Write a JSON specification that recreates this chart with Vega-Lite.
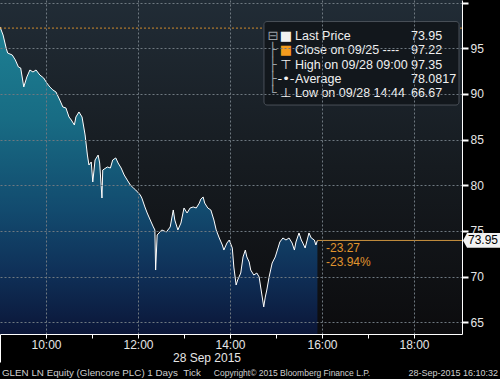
{
  "$schema": "https://vega.github.io/schema/vega-lite/v6.json",
  "width": 462,
  "height": 334,
  "autosize": "none",
  "padding": {"left": 0, "top": 0, "right": 38, "bottom": 45},
  "background": "#000000",
  "config": {"view": {"stroke": null}, "font": "Liberation Sans"},
  "datasets": {
    "price": [
      {"t": "2015-09-28T09:00", "price": 97.35},
      {"t": "2015-09-28T09:04", "price": 96.46},
      {"t": "2015-09-28T09:08", "price": 95.04},
      {"t": "2015-09-28T09:10", "price": 94.49},
      {"t": "2015-09-28T09:16", "price": 94.27},
      {"t": "2015-09-28T09:20", "price": 93.73},
      {"t": "2015-09-28T09:24", "price": 92.96},
      {"t": "2015-09-28T09:27", "price": 92.85},
      {"t": "2015-09-28T09:31", "price": 90.77},
      {"t": "2015-09-28T09:35", "price": 91.86},
      {"t": "2015-09-28T09:39", "price": 92.63},
      {"t": "2015-09-28T09:43", "price": 92.41},
      {"t": "2015-09-28T09:47", "price": 92.63},
      {"t": "2015-09-28T09:52", "price": 92.08},
      {"t": "2015-09-28T09:57", "price": 91.75},
      {"t": "2015-09-28T10:01", "price": 91.21},
      {"t": "2015-09-28T10:05", "price": 90.77},
      {"t": "2015-09-28T10:09", "price": 90.44},
      {"t": "2015-09-28T10:13", "price": 90.22},
      {"t": "2015-09-28T10:18", "price": 89.34},
      {"t": "2015-09-28T10:22", "price": 88.57},
      {"t": "2015-09-28T10:26", "price": 88.47},
      {"t": "2015-09-28T10:30", "price": 87.48},
      {"t": "2015-09-28T10:33", "price": 87.15},
      {"t": "2015-09-28T10:37", "price": 86.6},
      {"t": "2015-09-28T10:39", "price": 87.48},
      {"t": "2015-09-28T10:43", "price": 88.03},
      {"t": "2015-09-28T10:47", "price": 87.48},
      {"t": "2015-09-28T10:51", "price": 85.51},
      {"t": "2015-09-28T10:54", "price": 83.31},
      {"t": "2015-09-28T10:56", "price": 82.22},
      {"t": "2015-09-28T10:59", "price": 82.55},
      {"t": "2015-09-28T11:01", "price": 80.36},
      {"t": "2015-09-28T11:04", "price": 82.77},
      {"t": "2015-09-28T11:08", "price": 83.31},
      {"t": "2015-09-28T11:10", "price": 82.44},
      {"t": "2015-09-28T11:13", "price": 78.6},
      {"t": "2015-09-28T11:14", "price": 81.67},
      {"t": "2015-09-28T11:20", "price": 82.0},
      {"t": "2015-09-28T11:24", "price": 81.89},
      {"t": "2015-09-28T11:27", "price": 82.77},
      {"t": "2015-09-28T11:31", "price": 82.99},
      {"t": "2015-09-28T11:34", "price": 82.44},
      {"t": "2015-09-28T11:38", "price": 81.89},
      {"t": "2015-09-28T11:42", "price": 81.12},
      {"t": "2015-09-28T11:46", "price": 80.57},
      {"t": "2015-09-28T11:50", "price": 80.03},
      {"t": "2015-09-28T11:54", "price": 79.7},
      {"t": "2015-09-28T11:57", "price": 79.48},
      {"t": "2015-09-28T12:03", "price": 78.93},
      {"t": "2015-09-28T12:05", "price": 78.6},
      {"t": "2015-09-28T12:09", "price": 77.62},
      {"t": "2015-09-28T12:12", "price": 76.96},
      {"t": "2015-09-28T12:16", "price": 76.19},
      {"t": "2015-09-28T12:20", "price": 75.43},
      {"t": "2015-09-28T12:22", "price": 75.1},
      {"t": "2015-09-28T12:23", "price": 70.71},
      {"t": "2015-09-28T12:25", "price": 74.55},
      {"t": "2015-09-28T12:31", "price": 75.1},
      {"t": "2015-09-28T12:37", "price": 74.88},
      {"t": "2015-09-28T12:42", "price": 75.43},
      {"t": "2015-09-28T12:46", "price": 77.29},
      {"t": "2015-09-28T12:48", "price": 76.19},
      {"t": "2015-09-28T12:52", "price": 75.1},
      {"t": "2015-09-28T12:56", "price": 75.86},
      {"t": "2015-09-28T13:00", "price": 77.51},
      {"t": "2015-09-28T13:04", "price": 76.96},
      {"t": "2015-09-28T13:08", "price": 77.51},
      {"t": "2015-09-28T13:12", "price": 77.62},
      {"t": "2015-09-28T13:16", "price": 77.51},
      {"t": "2015-09-28T13:20", "price": 78.05},
      {"t": "2015-09-28T13:22", "price": 78.49},
      {"t": "2015-09-28T13:25", "price": 78.71},
      {"t": "2015-09-28T13:27", "price": 78.05},
      {"t": "2015-09-28T13:31", "price": 77.51},
      {"t": "2015-09-28T13:35", "price": 77.29},
      {"t": "2015-09-28T13:39", "price": 76.19},
      {"t": "2015-09-28T13:42", "price": 75.1},
      {"t": "2015-09-28T13:46", "price": 74.22},
      {"t": "2015-09-28T13:50", "price": 73.45},
      {"t": "2015-09-28T13:52", "price": 72.9},
      {"t": "2015-09-28T13:56", "price": 73.67},
      {"t": "2015-09-28T13:59", "price": 74.0},
      {"t": "2015-09-28T14:03", "price": 73.12},
      {"t": "2015-09-28T14:05", "price": 71.04},
      {"t": "2015-09-28T14:08", "price": 69.07},
      {"t": "2015-09-28T14:10", "price": 69.62},
      {"t": "2015-09-28T14:14", "price": 70.38},
      {"t": "2015-09-28T14:17", "price": 72.14},
      {"t": "2015-09-28T14:20", "price": 72.9},
      {"t": "2015-09-28T14:22", "price": 72.14},
      {"t": "2015-09-28T14:25", "price": 71.59},
      {"t": "2015-09-28T14:27", "price": 70.71},
      {"t": "2015-09-28T14:31", "price": 70.16},
      {"t": "2015-09-28T14:35", "price": 70.38},
      {"t": "2015-09-28T14:38", "price": 69.95},
      {"t": "2015-09-28T14:40", "price": 68.85},
      {"t": "2015-09-28T14:44", "price": 66.67},
      {"t": "2015-09-28T14:46", "price": 67.75},
      {"t": "2015-09-28T14:48", "price": 68.52},
      {"t": "2015-09-28T14:51", "price": 69.95},
      {"t": "2015-09-28T14:55", "price": 71.48},
      {"t": "2015-09-28T14:59", "price": 72.14},
      {"t": "2015-09-28T15:03", "price": 73.23},
      {"t": "2015-09-28T15:05", "price": 73.78},
      {"t": "2015-09-28T15:09", "price": 74.22},
      {"t": "2015-09-28T15:13", "price": 74.0},
      {"t": "2015-09-28T15:17", "price": 74.22},
      {"t": "2015-09-28T15:21", "price": 73.67},
      {"t": "2015-09-28T15:24", "price": 72.9},
      {"t": "2015-09-28T15:26", "price": 73.78},
      {"t": "2015-09-28T15:30", "price": 74.77},
      {"t": "2015-09-28T15:33", "price": 74.0},
      {"t": "2015-09-28T15:35", "price": 73.67},
      {"t": "2015-09-28T15:38", "price": 73.12},
      {"t": "2015-09-28T15:40", "price": 73.78},
      {"t": "2015-09-28T15:43", "price": 74.77},
      {"t": "2015-09-28T15:46", "price": 74.22},
      {"t": "2015-09-28T15:50", "price": 74.0},
      {"t": "2015-09-28T15:52", "price": 73.45},
      {"t": "2015-09-28T15:54", "price": 73.95}
    ],
    "legend": [
      {"label": "Last Price", "value": "73.95", "symbol": "■", "tree": "⊟"},
      {"label": "Close on 09/25 ----", "value": "97.22", "symbol": "■", "tree": "├"},
      {"label": "High on 09/28 09:00", "value": "97.35", "symbol": "⊤", "tree": "├"},
      {"label": "Average", "value": "78.0817", "symbol": "-•-", "tree": "├"},
      {"label": "Low on 09/28 14:44", "value": "66.67", "symbol": "⊥", "tree": "└"}
    ]
  },
  "layer": [
    {
      "layer": [
        {
          "data": {"values": [{}]},
          "mark": {"type": "rect", "fill": {"gradient": "linear", "x1": 0, "y1": 0, "x2": 0, "y2": 1, "stops": [{"offset": 0, "color": "#212c36"}, {"offset": 0.5, "color": "#161b20"}, {"offset": 1, "color": "#0c0c0e"}]}},
          "encoding": {
            "x": {"datum": {"year": 2015, "month": 9, "date": 28, "hours": 9, "minutes": 0}, "type": "temporal"},
            "x2": {"datum": {"year": 2015, "month": 9, "date": 28, "hours": 19, "minutes": 2, "seconds": 36}},
            "y": {"datum": 63.7, "type": "quantitative"},
            "y2": {"datum": 100.3}
          }
        },
        {
          "data": {"name": "price"},
          "mark": {"type": "area", "opacity": 1, "fillOpacity": 1, "line": {"color": "#ffffff", "strokeWidth": 1}, "fill": {"gradient": "linear", "x1": 0, "y1": 0, "x2": 0, "y2": 1, "stops": [{"offset": 0, "color": "#1d8093"}, {"offset": 0.3, "color": "#186c84"}, {"offset": 0.6, "color": "#124a6e"}, {"offset": 0.8, "color": "#0f3058"}, {"offset": 1, "color": "#0b1638"}]}},
          "encoding": {
            "x": {
              "field": "t", "type": "temporal",
              "scale": {"domain": [{"year": 2015, "month": 9, "date": 28, "hours": 9, "minutes": 0}, {"year": 2015, "month": 9, "date": 28, "hours": 19, "minutes": 2, "seconds": 36}]},
              "axis": {
                "values": [
                  {"year": 2015, "month": 9, "date": 28, "hours": 9},
                  {"year": 2015, "month": 9, "date": 28, "hours": 10},
                  {"year": 2015, "month": 9, "date": 28, "hours": 11},
                  {"year": 2015, "month": 9, "date": 28, "hours": 12},
                  {"year": 2015, "month": 9, "date": 28, "hours": 13},
                  {"year": 2015, "month": 9, "date": 28, "hours": 14},
                  {"year": 2015, "month": 9, "date": 28, "hours": 15},
                  {"year": 2015, "month": 9, "date": 28, "hours": 16},
                  {"year": 2015, "month": 9, "date": 28, "hours": 17},
                  {"year": 2015, "month": 9, "date": 28, "hours": 18}
                ],
                "labelExpr": "(hours(datum.value) % 2 == 0 && hours(datum.value) >= 10) ? timeFormat(datum.value, '%H:%M') : ''",
                "labelColor": "#e6e6e6", "labelFontSize": 12, "labelPadding": 1, "labelFlush": false, "labelOverlap": false,
                "domainColor": "#ffffff",
                "tickColor": "#ffffff",
                "tickSize": {"condition": {"test": "hours(datum.value) == 9", "value": 28}, "value": 4},
                "grid": true, "gridColor": "#6e7880", "gridDash": [2, 2],
                "gridOpacity": {"condition": {"test": "hours(datum.value) % 2 == 0 && hours(datum.value) >= 10", "value": 1}, "value": 0},
                "title": "28 Sep 2015", "titleColor": "#e6e6e6", "titleFontSize": 12, "titleFontWeight": "normal",
                "titleX": 206.5, "titleY": 18, "titleAlign": "center", "titleBaseline": "top",
                "zindex": 1
              }
            },
            "y": {
              "field": "price", "type": "quantitative",
              "scale": {"domain": [63.7, 100.3], "nice": false, "zero": false},
              "axis": {
                "orient": "right",
                "values": [65, 67.5, 70, 72.5, 75, 77.5, 80, 82.5, 85, 87.5, 90, 92.5, 95, 97.5, 100],
                "labelExpr": "(datum.value % 5 == 0 && datum.value < 100) ? datum.label : ''",
                "labelColor": "#e6e6e6", "labelFontSize": 12, "labelPadding": 2,
                "domainColor": "#ffffff",
                "tickColor": "#ffffff", "tickSize": 6,
                "tickWidth": {"condition": {"test": "datum.value % 5 == 0", "value": 2}, "value": 1},
                "grid": true, "gridColor": "#6e7880", "gridDash": [2, 2],
                "gridOpacity": {"condition": {"test": "datum.value % 5 == 0", "value": 1}, "value": 0},
                "title": null,
                "zindex": 1
              }
            },
            "y2": {"datum": 63.7}
          }
        },
        {
          "data": {"values": [{}]},
          "mark": {"type": "rule", "color": "#d08a2c", "strokeDash": [2, 2], "strokeWidth": 1},
          "encoding": {"y": {"datum": 97.22, "type": "quantitative"}}
        },
        {
          "data": {"values": [{}]},
          "mark": {"type": "rule", "color": "#c8913e", "strokeWidth": 1},
          "encoding": {
            "x": {"datum": {"year": 2015, "month": 9, "date": 28, "hours": 15, "minutes": 54}, "type": "temporal"},
            "x2": {"datum": {"year": 2015, "month": 9, "date": 28, "hours": 19, "minutes": 2, "seconds": 36}},
            "y": {"datum": 73.95, "type": "quantitative"}
          }
        },
        {
          "data": {"values": [{}]},
          "mark": {"type": "point", "shape": "M -1 0 L -0.78 -0.4 L 1 -0.4 L 1 0.4 L -0.78 0.4 Z", "size": 1369, "filled": true, "color": "#f2f2f2", "opacity": 1, "xOffset": 19.5},
          "encoding": {
            "x": {"datum": {"year": 2015, "month": 9, "date": 28, "hours": 19, "minutes": 2, "seconds": 36}, "type": "temporal"},
            "y": {"datum": 73.95, "type": "quantitative"}
          }
        },
        {
          "data": {"values": [{}]},
          "mark": {"type": "text", "text": "73.95", "color": "#000000", "fontSize": 12, "align": "center", "baseline": "middle", "dx": 21},
          "encoding": {
            "x": {"datum": {"year": 2015, "month": 9, "date": 28, "hours": 19, "minutes": 2, "seconds": 36}, "type": "temporal"},
            "y": {"datum": 73.95, "type": "quantitative"}
          }
        },
        {
          "data": {"values": [{}]},
          "mark": {"type": "text", "text": "-23.27", "color": "#e0952e", "fontSize": 12, "align": "left", "baseline": "middle"},
          "encoding": {
            "x": {"datum": {"year": 2015, "month": 9, "date": 28, "hours": 16, "minutes": 5, "seconds": 12}, "type": "temporal"},
            "y": {"datum": 73.12, "type": "quantitative"}
          }
        },
        {
          "data": {"values": [{}]},
          "mark": {"type": "text", "text": "-23.94%", "color": "#e0952e", "fontSize": 12, "align": "left", "baseline": "middle"},
          "encoding": {
            "x": {"datum": {"year": 2015, "month": 9, "date": 28, "hours": 16, "minutes": 5, "seconds": 12}, "type": "temporal"},
            "y": {"datum": 71.59, "type": "quantitative"}
          }
        },
        {
          "data": {"values": [{}]},
          "mark": {"type": "rect", "fill": "#12171c", "stroke": "#4a5058", "strokeWidth": 1, "cornerRadius": 3},
          "encoding": {
            "x": {"datum": {"year": 2015, "month": 9, "date": 28, "hours": 14, "minutes": 44, "seconds": 18}, "type": "temporal"},
            "x2": {"datum": {"year": 2015, "month": 9, "date": 28, "hours": 18, "minutes": 58, "seconds": 42}},
            "y": {"datum": 97.94, "type": "quantitative"},
            "y2": {"datum": 88.79}
          }
        },
        {
          "data": {"values": [{}]},
          "mark": {"type": "text", "text": "GLEN LN Equity (Glencore PLC) 1 Days\u00a0\u00a0Tick", "color": "#cfcfcf", "fontSize": 9.8, "align": "left", "baseline": "middle"},
          "encoding": {
            "x": {"datum": {"year": 2015, "month": 9, "date": 28, "hours": 9, "minutes": 2, "seconds": 36}, "type": "temporal"},
            "y": {"datum": 59.4, "type": "quantitative"}
          }
        },
        {
          "data": {"values": [{}]},
          "mark": {"type": "text", "text": "Copyright© 2015 Bloomberg Finance L.P.", "color": "#cfcfcf", "fontSize": 8.5, "align": "center", "baseline": "middle"},
          "encoding": {
            "x": {"datum": {"year": 2015, "month": 9, "date": 28, "hours": 15, "minutes": 20, "seconds": 52}, "type": "temporal"},
            "y": {"datum": 59.4, "type": "quantitative"}
          }
        },
        {
          "data": {"values": [{}]},
          "mark": {"type": "text", "text": "28-Sep-2015 16:10:32", "color": "#cfcfcf", "fontSize": 9, "align": "right", "baseline": "middle"},
          "encoding": {
            "x": {"datum": {"year": 2015, "month": 9, "date": 28, "hours": 19, "minutes": 49, "seconds": 30}, "type": "temporal"},
            "y": {"datum": 59.4, "type": "quantitative"}
          }
        }
      ]
    },
    {
      "data": {"name": "legend"},
      "encoding": {
        "y": {"field": "label", "type": "ordinal", "scale": {"type": "point", "domain": ["Last Price", "Close on 09/25 ----", "High on 09/28 09:00", "Average", "Low on 09/28 14:44"], "range": [36, 93], "padding": 0}, "axis": null}
      },
      "layer": [
        {
          "mark": {"type": "text", "align": "center", "baseline": "middle", "font": "DejaVu Sans", "fontSize": 13, "color": "#9aa0a6"},
          "encoding": {
            "x": {"datum": {"year": 2015, "month": 9, "date": 28, "hours": 14, "minutes": 56}, "type": "temporal"},
            "text": {"field": "tree"}
          }
        },
        {
          "mark": {"type": "text", "align": "center", "baseline": "middle", "font": "DejaVu Sans", "fontSize": 13},
          "encoding": {
            "x": {"datum": {"year": 2015, "month": 9, "date": 28, "hours": 15, "minutes": 13}, "type": "temporal"},
            "text": {"field": "symbol"},
            "color": {"condition": {"test": "datum.label == 'Close on 09/25 ----'", "value": "#f39c1e"}, "value": "#f2f2f2"}
          }
        },
        {
          "mark": {"type": "text", "align": "left", "baseline": "middle", "fontSize": 12.5, "color": "#f0f0f0"},
          "encoding": {
            "x": {"datum": {"year": 2015, "month": 9, "date": 28, "hours": 15, "minutes": 24, "seconds": 48}, "type": "temporal"},
            "text": {"field": "label"}
          }
        },
        {
          "mark": {"type": "text", "align": "left", "baseline": "middle", "fontSize": 12.5, "color": "#f0f0f0"},
          "encoding": {
            "x": {"datum": {"year": 2015, "month": 9, "date": 28, "hours": 17, "minutes": 56}, "type": "temporal"},
            "text": {"field": "value"}
          }
        }
      ]
    }
  ],
  "resolve": {"scale": {"y": "independent"}}
}
